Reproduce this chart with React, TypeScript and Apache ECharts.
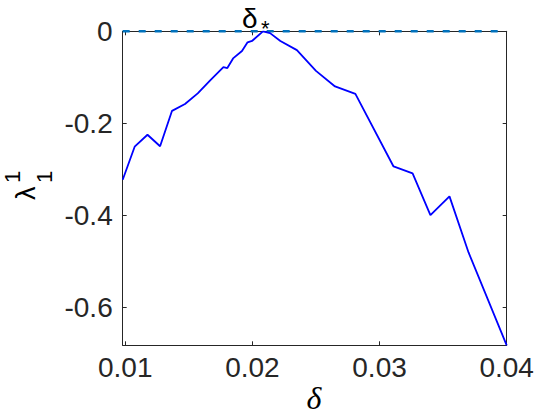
import React, { useEffect, useRef } from "react";
import * as echarts from "echarts";

const deltaValues = [
  0.0098, 0.01074, 0.01175, 0.01274, 0.01368, 0.0147, 0.0157, 0.0167, 0.01772,
  0.01803, 0.01848, 0.01918, 0.01962, 0.01997, 0.02083, 0.02139, 0.0222,
  0.0235, 0.025, 0.0265, 0.0281, 0.0311, 0.0326, 0.034, 0.0355, 0.037, 0.04,
];
const lambdaValues = [
  -0.323, -0.251, -0.225, -0.25, -0.173, -0.158, -0.135, -0.106, -0.078,
  -0.08, -0.059, -0.043, -0.024, -0.021, 0, -0.004, -0.021, -0.041, -0.086,
  -0.12, -0.136, -0.294, -0.309, -0.4, -0.359, -0.481, -0.683,
];
const xRange = [0.0098, 0.04];
const yRange = [-0.683, 0];
const referenceLevel = [0, 0];

export default function App() {
  const ref = useRef<HTMLDivElement>(null);
  useEffect(() => {
    if (!ref.current) return;
    const chart = echarts.init(ref.current, undefined, { renderer: "svg" });
    const axisColor = "#262626";
    const labelFont = "Liberation Sans";
    const xAxisBase = {
      type: "value" as const,
      min: xRange[0],
      max: xRange[1],
      minInterval: 0.01,
      maxInterval: 0.01,
      splitLine: { show: false },
      axisLine: { show: true, onZero: false, lineStyle: { color: axisColor, width: 1 } },
      axisTick: { show: true, inside: true, length: 4, lineStyle: { color: axisColor } },
    };
    const yAxisBase = {
      type: "value" as const,
      min: yRange[0],
      max: yRange[1],
      minInterval: 0.2,
      maxInterval: 0.2,
      splitLine: { show: false },
      axisLine: { show: true, onZero: false, lineStyle: { color: axisColor, width: 1 } },
      axisTick: { show: true, inside: true, length: 4, lineStyle: { color: axisColor } },
    };
    chart.setOption({
      animation: false,
      backgroundColor: "#ffffff",
      grid: { left: 122.7, right: 53.3, top: 31.3, bottom: 74.7 },
      xAxis: [
        {
          ...xAxisBase,
          position: "bottom",
          axisLabel: {
            show: true,
            showMinLabel: false,
            margin: 8,
            fontSize: 28,
            fontFamily: labelFont,
            color: axisColor,
          },
        },
        { ...xAxisBase, position: "top", axisLabel: { show: false } },
      ],
      yAxis: [
        {
          ...yAxisBase,
          position: "left",
          axisLabel: {
            show: true,
            showMinLabel: false,
            margin: 10,
            fontSize: 28,
            fontFamily: labelFont,
            color: axisColor,
          },
        },
        { ...yAxisBase, position: "right", axisLabel: { show: false } },
      ],
      series: [
        {
          type: "line",
          data: xRange.map((x, i) => [x, referenceLevel[i]]),
          symbol: "none",
          lineStyle: { color: "#0072BD", width: 2.5, type: [7, 9] },
          z: 3,
        },
        {
          type: "line",
          data: deltaValues.map((x, i) => [x, lambdaValues[i]]),
          symbol: "none",
          lineStyle: { color: "#0000FF", width: 1.8 },
          z: 4,
        },
      ],
      graphic: [
        {
          type: "text",
          x: 242,
          y: 18,
          style: {
            text: "δ",
            fontSize: 28,
            fontFamily: labelFont,
            fill: "#000000",
            align: "left",
            verticalAlign: "middle",
          },
        },
        {
          type: "text",
          x: 261,
          y: 28,
          style: {
            text: "*",
            fontSize: 22,
            fontFamily: labelFont,
            fill: "#000000",
            align: "left",
            verticalAlign: "middle",
          },
        },
        {
          type: "text",
          x: 314,
          y: 398,
          style: {
            text: "δ",
            fontSize: 32,
            fontFamily: "Liberation Serif",
            fontStyle: "italic",
            fill: "#000000",
            align: "center",
            verticalAlign: "middle",
          },
        },
        {
          type: "group",
          x: 26,
          y: 200,
          rotation: Math.PI / 2,
          children: [
            {
              type: "text",
              x: 0,
              y: 0,
              style: {
                text: "λ",
                fontSize: 27,
                fontFamily: labelFont,
                fill: "#000000",
                align: "left",
                verticalAlign: "middle",
              },
            },
            {
              type: "text",
              x: 17,
              y: -14,
              style: {
                text: "1",
                fontSize: 22,
                fontFamily: labelFont,
                fill: "#000000",
                align: "left",
                verticalAlign: "middle",
              },
            },
            {
              type: "text",
              x: 17,
              y: 18,
              style: {
                text: "1",
                fontSize: 22,
                fontFamily: labelFont,
                fill: "#000000",
                align: "left",
                verticalAlign: "middle",
              },
            },
          ],
        },
      ],
    });
    return () => chart.dispose();
  }, []);
  return (
    <div
      ref={ref}
      style={{ position: "fixed", left: 0, top: 0, width: 560, height: 420 }}
    />
  );
}
